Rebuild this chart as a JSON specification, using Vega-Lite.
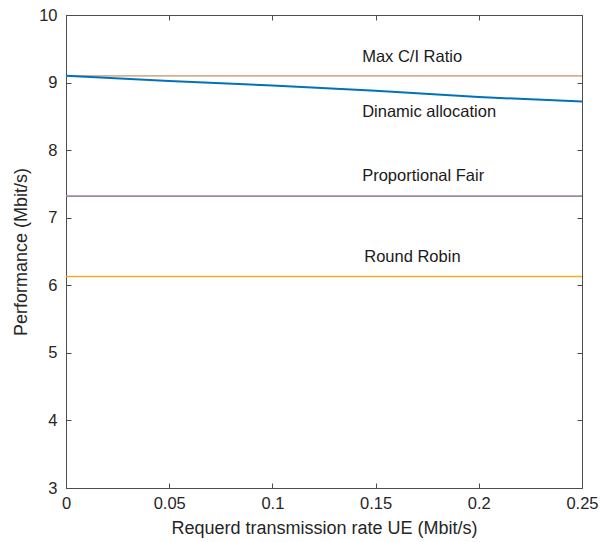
{
  "$schema": "https://vega.github.io/schema/vega-lite/v6.json",
  "autosize": {"type": "none"},
  "width": 516,
  "height": 473,
  "padding": {"left": 66, "top": 15, "right": 25, "bottom": 54},
  "background": "white",
  "config": {
    "view": {"stroke": "#4d4d4d", "strokeWidth": 1},
    "font": "Liberation Sans",
    "axis": {
      "grid": false,
      "domainColor": "#4d4d4d",
      "tickColor": "#4d4d4d",
      "labelColor": "#262626",
      "titleColor": "#262626",
      "labelFont": "Liberation Sans",
      "titleFont": "Liberation Sans",
      "labelFontSize": 16.5,
      "titleFontSize": 18,
      "titleFontWeight": "normal",
      "tickSize": -5,
      "tickWidth": 1
    }
  },
  "datasets": {
    "lines": [
      {"series": "Max C/I Ratio", "x": 0, "y": 9.1},
      {"series": "Max C/I Ratio", "x": 0.25, "y": 9.1},
      {"series": "Proportional Fair", "x": 0, "y": 7.32},
      {"series": "Proportional Fair", "x": 0.25, "y": 7.32},
      {"series": "Round Robin", "x": 0, "y": 6.13},
      {"series": "Round Robin", "x": 0.25, "y": 6.13},
      {"series": "Dinamic allocation", "x": 0, "y": 9.1},
      {"series": "Dinamic allocation", "x": 0.05, "y": 9.025},
      {"series": "Dinamic allocation", "x": 0.1, "y": 8.955},
      {"series": "Dinamic allocation", "x": 0.15, "y": 8.88},
      {"series": "Dinamic allocation", "x": 0.2, "y": 8.785},
      {"series": "Dinamic allocation", "x": 0.25, "y": 8.72}
    ],
    "labels": [
      {"text": "Max C/I Ratio", "x": 0.1435, "y": 9.38},
      {"text": "Dinamic allocation", "x": 0.1435, "y": 8.57},
      {"text": "Proportional Fair", "x": 0.1435, "y": 7.62},
      {"text": "Round Robin", "x": 0.1445, "y": 6.42}
    ]
  },
  "layer": [
    {
      "data": {"name": "lines"},
      "mark": {"type": "line", "clip": true},
      "encoding": {
        "x": {
          "field": "x", "type": "quantitative",
          "scale": {"domain": [0, 0.25], "nice": false, "zero": false},
          "axis": {
            "title": "Requerd transmission rate UE (Mbit/s)",
            "values": [0, 0.05, 0.1, 0.15, 0.2, 0.25],
            "format": "~g",
            "labelPadding": 12,
            "titlePadding": 8,
            "labelFlush": false,
            "domain": false
          }
        },
        "y": {
          "field": "y", "type": "quantitative",
          "scale": {"domain": [3, 10], "nice": false, "zero": false},
          "axis": {
            "title": "Performance (Mbit/s)",
            "values": [3, 4, 5, 6, 7, 8, 9, 10],
            "format": "d",
            "labelPadding": 14,
            "titlePadding": 8,
            "labelFlush": false,
            "domain": false
          }
        },
        "color": {
          "field": "series", "type": "nominal",
          "scale": {
            "domain": ["Dinamic allocation", "Max C/I Ratio", "Proportional Fair", "Round Robin"],
            "range": ["#0072BD", "#D9B08F", "#9C8A9F", "#EDB120"]
          },
          "legend": null
        },
        "strokeWidth": {
          "field": "series", "type": "nominal",
          "scale": {
            "domain": ["Dinamic allocation", "Max C/I Ratio", "Proportional Fair", "Round Robin"],
            "range": [2, 1.5, 1.5, 2]
          },
          "legend": null
        }
      }
    },
    {
      "data": {"name": "lines"},
      "mark": {"type": "point", "opacity": 0},
      "encoding": {
        "x": {
          "field": "x", "type": "quantitative",
          "axis": {"orient": "top", "values": [0, 0.05, 0.1, 0.15, 0.2, 0.25], "labels": false, "title": null, "domain": false}
        },
        "y": {
          "field": "y", "type": "quantitative",
          "axis": {"orient": "right", "values": [3, 4, 5, 6, 7, 8, 9, 10], "labels": false, "title": null, "domain": false}
        }
      }
    },
    {
      "data": {"name": "labels"},
      "mark": {"type": "text", "align": "left", "baseline": "middle", "fontSize": 16.5, "font": "Liberation Sans", "color": "#1a1a1a"},
      "encoding": {
        "x": {"field": "x", "type": "quantitative", "axis": null},
        "y": {"field": "y", "type": "quantitative", "axis": null},
        "text": {"field": "text"}
      }
    }
  ],
  "resolve": {"axis": {"x": "independent", "y": "independent"}}
}
